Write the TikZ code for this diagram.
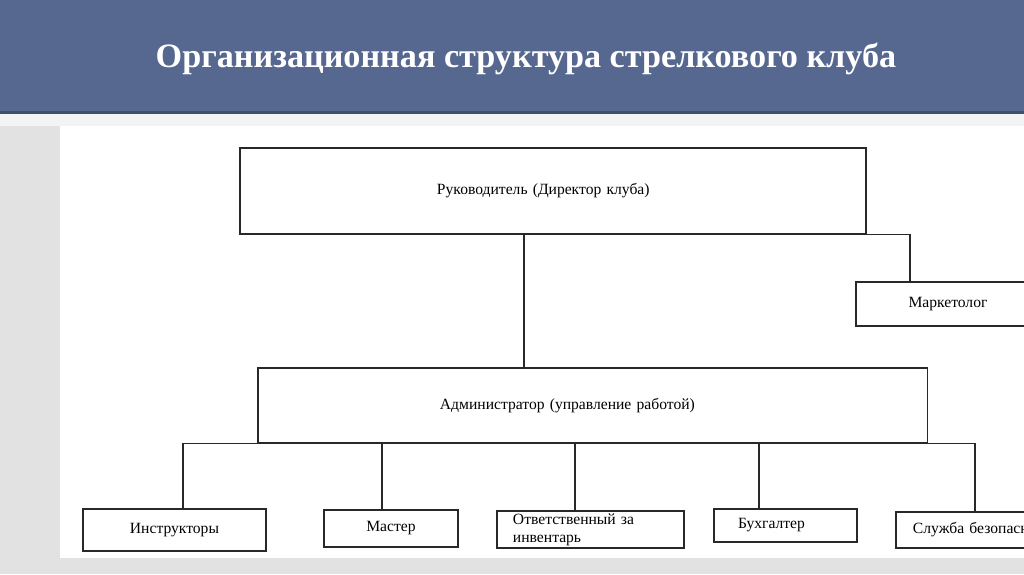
\documentclass[tikz,border=0pt]{standalone}
\usepackage{fontspec}
\setmainfont{Liberation Serif}
\definecolor{banner}{RGB}{86,104,143}
\definecolor{bannerline}{RGB}{62,78,112}
\definecolor{bggray}{RGB}{226,226,226}
\definecolor{bglight}{RGB}{243,243,243}
\definecolor{linec}{RGB}{40,40,40}
\begin{document}
\begin{tikzpicture}[x=0.025cm,y=-0.025cm,
  box/.style={draw=linec, line width=0.85pt, fill=white, inner ysep=0pt, font=\fontsize{11.1}{13}\selectfont},
  conn/.style={draw=linec, line width=0.85pt},
  titlestyle/.style={text=white, font=\fontsize{24.3}{29}\selectfont\bfseries}]
\useasboundingbox (0,0) rectangle (1024,574);
% background
\fill[bggray] (0,113) rectangle (1024,574);
\fill[bglight] (0,114) rectangle (1024,126);
\fill[white] (60,126) rectangle (1024,558);
\fill[banner] (0,0) rectangle (1024,113);
\fill[bannerline] (0,111) rectangle (1024,114);
\node[titlestyle] (title) at (526,59) {Организационная структура стрелкового клуба};
% boxes
\node[box, align=left, text width=5.8cm, inner xsep=4.925cm, minimum height=2.15cm] (dir) at (553,191) {Руководитель (Директор клуба)};
\node[box, align=center, text width=4.4cm, inner xsep=0.1cm, minimum height=1.1cm] (mark) at (948,304) {Маркетолог};
\node[box, align=left, text width=7.625cm, inner xsep=4.55cm, minimum height=1.875cm] (adm) at (592.5,405.5) {Администратор (управление работой)};
\node[box, align=center, text width=4.375cm, inner xsep=0.1cm, minimum height=1.05cm] (instr) at (174.5,530) {Инструкторы};
\node[box, align=center, text width=3.15cm, inner xsep=0.1cm, minimum height=0.925cm] (master) at (391,528.5) {Мастер};
\node[box, align=left, text width=3.875cm, inner xsep=0.4cm, minimum height=0.925cm] (otv) at (590.5,529.5) {Ответственный за\\инвентарь};
\node[box, align=left, text width=2.375cm, inner xsep=0.6cm, minimum height=0.825cm] (buh) at (785.5,525.5) {Бухгалтер};
\node[box, align=left, text width=4.25cm, inner xsep=0.425cm, minimum height=0.9cm] (sec) at (998,530) {Служба безопасности};
% connector columns
\coordinate (c1) at (524,0);
\coordinate (cm) at (910,0);
\coordinate (ci) at (183,0);
\coordinate (cma) at (382,0);
\coordinate (co) at (575,0);
\coordinate (cb) at (759,0);
\coordinate (cs) at (975,0);
% connectors
\draw[conn] (dir.south -| c1) -- (adm.north -| c1);
\draw[conn] (dir.south east) -| (mark.north -| cm);
\draw[conn] (adm.south west) -| (instr.north -| ci);
\draw[conn] (adm.south east) -| (sec.north -| cs);
\draw[conn] (adm.south -| cma) -- (master.north -| cma);
\draw[conn] (adm.south -| co) -- (otv.north -| co);
\draw[conn] (adm.south -| cb) -- (buh.north -| cb);
\end{tikzpicture}
\end{document}
